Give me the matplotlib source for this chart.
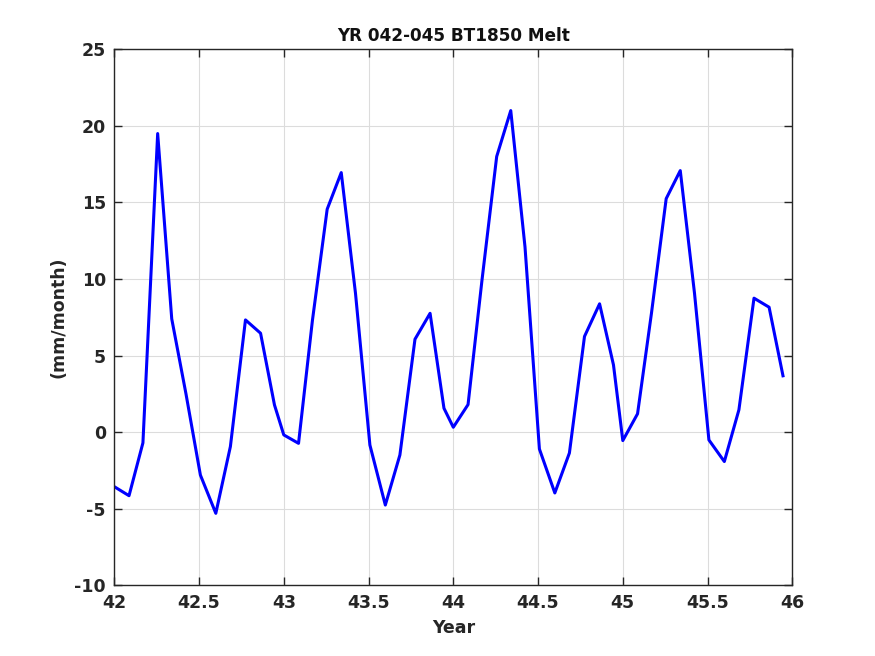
import numpy as np
import matplotlib
matplotlib.use("Agg")
import matplotlib.pyplot as plt

# monthly melt (mm/month), years 042-045
years = [42, 43, 44, 45]
month_offset = [0.0, 0.087, 0.169, 0.256, 0.339, 0.423,
                0.508, 0.599, 0.685, 0.774, 0.863, 0.945]
melt_42 = [-3.56, -4.15, -0.7, 19.5, 7.4, 2.5, -2.8, -5.3, -0.94, 7.33, 6.46, 1.78]
melt_43 = [-0.18, -0.73, 7.3, 14.56, 16.95, 9.07, -0.84, -4.76, -1.49, 6.07, 7.76, 1.56]
melt_44 = [0.32, 1.8, 9.9, 18.0, 21.0, 12.1, -1.1, -3.97, -1.36, 6.25, 8.38, 4.39]
melt_45 = [-0.55, 1.2, 7.76, 15.25, 17.08, 9.07, -0.51, -1.92, 1.46, 8.75, 8.16, 3.68]

t = np.concatenate([yr + np.array(month_offset) for yr in years])
melt = np.concatenate([melt_42, melt_43, melt_44, melt_45])

plt.rcParams['font.family'] = 'DejaVu Sans'
plt.rcParams['font.weight'] = 'bold'
plt.rcParams['axes.unicode_minus'] = False

fig = plt.figure(figsize=(8.75, 6.56), dpi=100)
ax = fig.add_axes([0.1306, 0.1078, 0.7749, 0.8170])

ax.plot(t, melt, color="#0000ff", linewidth=2.2)

ax.set_xlim(42, 46)
ax.set_ylim(-10, 25)
ax.set_xticks(np.arange(42, 46.01, 0.5))
ax.set_yticks(np.arange(-10, 25.01, 5))
ax.set_xticklabels(["42", "42.5", "43", "43.5", "44", "44.5", "45", "45.5", "46"])
ax.grid(True, color="#dcdcdc", linewidth=0.8)
ax.set_axisbelow(True)

ax.tick_params(direction="in", length=6, width=1, top=True, right=True,
               labelsize=12.5, colors="#262626", pad=6)
for lbl in ax.get_xticklabels() + ax.get_yticklabels():
    lbl.set_fontweight("bold")
for s in ax.spines.values():
    s.set_color("#262626")
    s.set_linewidth(1)

ax.set_xlabel("Year", fontsize=12.5, fontweight="bold", color="#262626", labelpad=5)
ax.set_ylabel("(mm/month)", fontsize=12.5, fontweight="bold", color="#262626", labelpad=5)
ax.set_title("YR 042-045 BT1850 Melt", fontsize=12.2, fontweight="bold", color="#111111", pad=6)

fig.savefig("out.png", dpi=100)
